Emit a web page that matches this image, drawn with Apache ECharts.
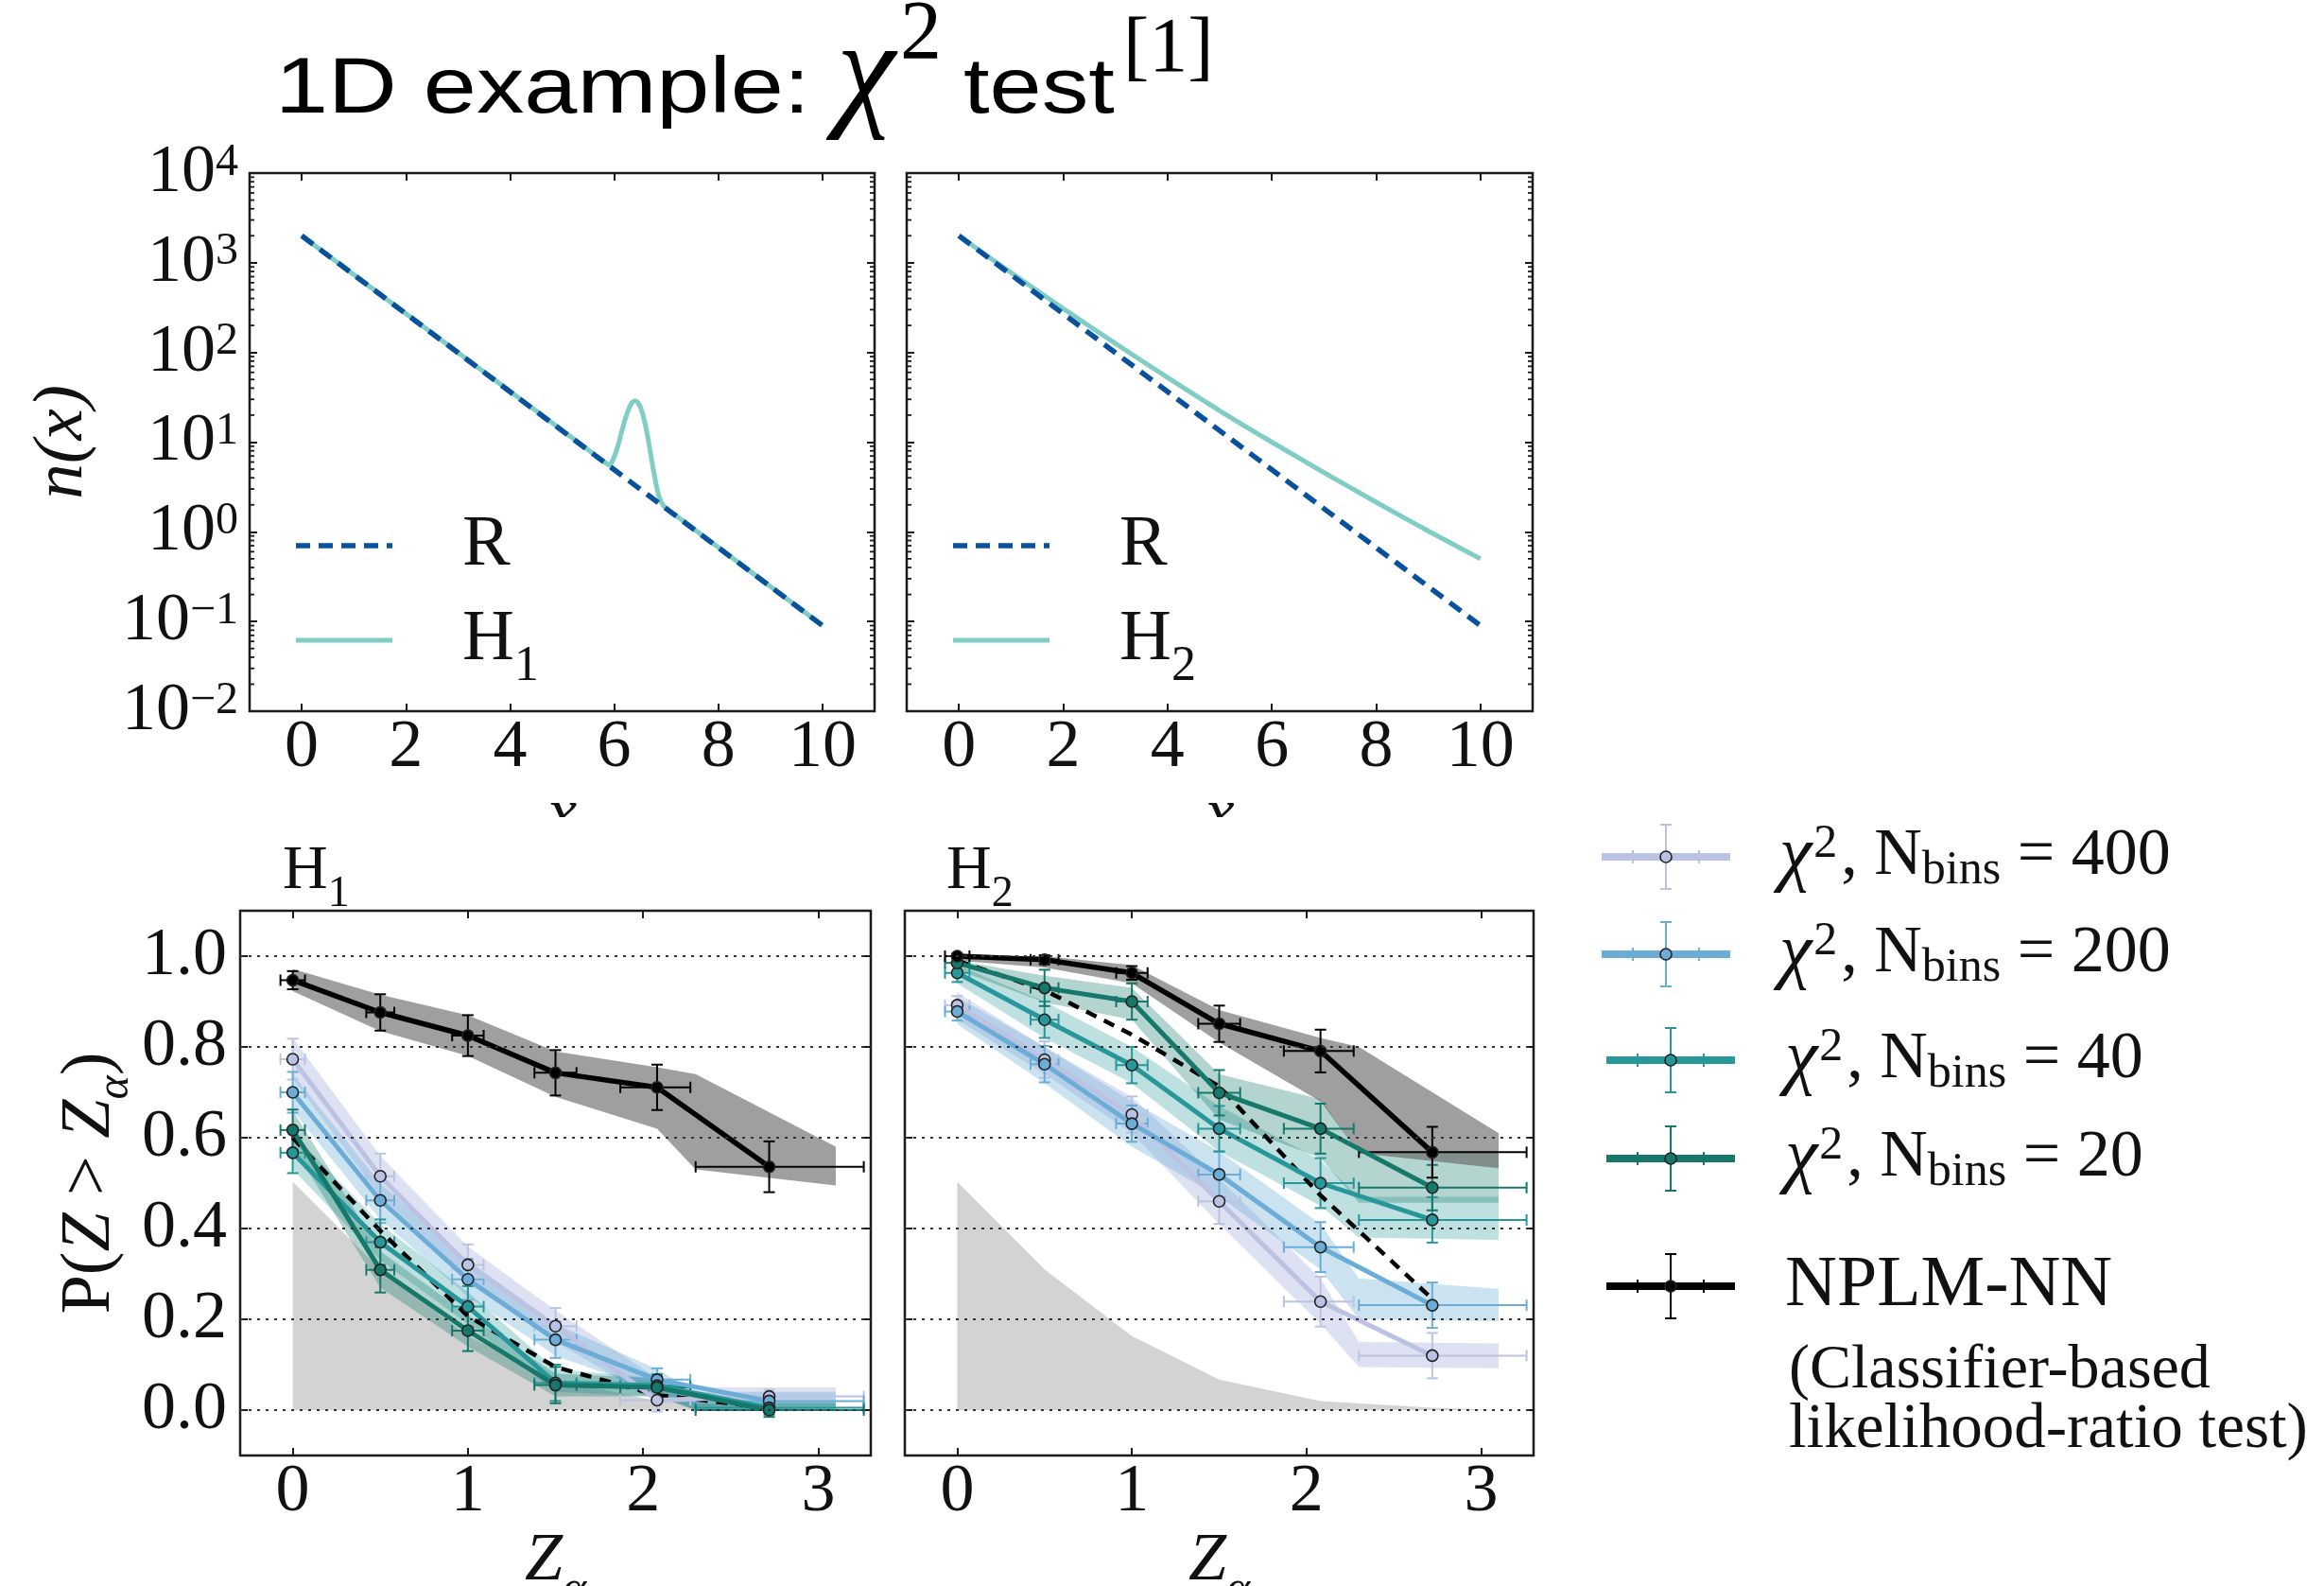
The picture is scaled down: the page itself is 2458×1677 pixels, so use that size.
<!DOCTYPE html>
<html><head><meta charset="utf-8">
<script src="https://cdn.jsdelivr.net/npm/echarts@6/dist/echarts.min.js"></script>
<style>html,body{margin:0;padding:0;background:#fff}#c{width:2458px;height:1677px}</style>
</head><body><div id="c"></div>
<script>
// ================= DATA =================
// top panels
const topXTicks = [0, 2, 4, 6, 8, 10];
const topYExps = [-2, -1, 0, 1, 2, 3, 4];
const minorMant = [2, 3, 4, 5, 6, 7, 8, 9];
const rX = [0, 10];
const rY = [2000, 0.09];
const h1X = [0, 5.9, 5.95, 6.0, 6.05, 6.1, 6.15, 6.2, 6.25, 6.3, 6.35, 6.4, 6.45, 6.5, 6.55, 6.6, 6.65, 6.7, 6.75, 6.8, 6.85, 6.9, 6.95, 7.0, 10];
const h1Y = [2000, 5.5, 5.9, 6.8, 8.2, 10.4, 13.4, 17.2, 21.2, 25.0, 28.0, 29.0, 28.0, 25.0, 20.5, 15.5, 11.0, 7.5, 5.0, 3.5, 2.6, 2.15, 1.95, 1.83, 0.09];
const h2X = [0, 1, 2, 3, 4, 5, 6, 7, 8, 9, 10];
const h2Y = [2000, 776, 309, 126, 52.5, 22.4, 10.0, 4.57, 2.14, 1.02, 0.50];

// bottom panels
const zTicks = [0, 1, 2, 3];
const pTicks = [0, 0.2, 0.4, 0.6, 0.8, 1.0];
const pLabels = ['0.0', '0.2', '0.4', '0.6', '0.8', '1.0'];
const zX = [0, 0.5, 1.0, 1.5, 2.08, 2.72];
const zXerrLo = [0.07, 0.08, 0.09, 0.12, 0.21, 0.42];
const zXerrHi = [0.07, 0.08, 0.09, 0.12, 0.19, 0.54];
const bandX = [0, 0.5, 1.0, 1.5, 2.08, 2.3, 3.1];
const nullX = [0, 0.5, 1.0, 1.5, 2.08, 2.72, 3.1];
const nullY = [0.503, 0.31, 0.163, 0.067, 0.02, 0.005, 0.0];

// H1
const h1Nplm = [0.947, 0.876, 0.825, 0.743, 0.711, 0.536];
const h1NplmErr = [0.02, 0.04, 0.045, 0.05, 0.05, 0.056];
const h1NplmUp = [0.972, 0.915, 0.87, 0.79, 0.755, 0.74, 0.58];
const h1NplmLo = [0.923, 0.835, 0.78, 0.69, 0.62, 0.53, 0.495];
const h1C400 = [0.773, 0.515, 0.32, 0.185, 0.022, 0.03];
const h1C200 = [0.70, 0.462, 0.288, 0.155, 0.067, 0.02];
const h1C40 = [0.567, 0.37, 0.228, 0.06, 0.054, 0.005];
const h1C20 = [0.617, 0.309, 0.175, 0.055, 0.05, 0.0];
const h1ChiErr = [0.045, 0.05, 0.045, 0.04, 0.025, 0.015];
const h1C400Up = [0.82, 0.56, 0.36, 0.22, 0.07, 0.05, 0.05];
const h1C400Lo = [0.73, 0.47, 0.28, 0.15, 0.02, 0.01, 0.01];
const h1C200Up = [0.74, 0.50, 0.33, 0.19, 0.09, 0.04, 0.04];
const h1C200Lo = [0.66, 0.42, 0.25, 0.12, 0.04, 0.0, 0.0];
const h1C40Up = [0.61, 0.41, 0.26, 0.09, 0.07, 0.02, 0.02];
const h1C40Lo = [0.53, 0.33, 0.19, 0.04, 0.03, 0.0, 0.0];
const h1C20Up = [0.66, 0.35, 0.21, 0.08, 0.07, 0.015, 0.015];
const h1C20Lo = [0.58, 0.27, 0.14, 0.03, 0.03, 0.0, 0.0];
const h1Dashed = [0.60, 0.395, 0.207, 0.095, 0.033, 0.005];

// H2
const h2Nplm = [1.0, 0.992, 0.963, 0.851, 0.791, 0.568];
const h2NplmErr = [0.005, 0.01, 0.015, 0.04, 0.047, 0.056];
const h2NplmUp = [1.0, 1.0, 0.98, 0.881, 0.82, 0.80, 0.61];
const h2NplmLo = [0.99, 0.975, 0.94, 0.81, 0.68, 0.566, 0.533];
const h2C400 = [0.892, 0.772, 0.651, 0.46, 0.239, 0.12];
const h2C200 = [0.878, 0.762, 0.631, 0.519, 0.359, 0.231];
const h2C40 = [0.963, 0.86, 0.76, 0.62, 0.50, 0.419];
const h2C20 = [0.985, 0.93, 0.90, 0.699, 0.62, 0.49];
const h2ChiErr = [0.02, 0.04, 0.04, 0.05, 0.055, 0.05];
const h2C400Up = [0.92, 0.80, 0.69, 0.51, 0.29, 0.15, 0.147];
const h2C400Lo = [0.86, 0.74, 0.61, 0.41, 0.19, 0.095, 0.092];
const h2C200Up = [0.91, 0.80, 0.68, 0.57, 0.41, 0.29, 0.267];
const h2C200Lo = [0.85, 0.72, 0.58, 0.47, 0.31, 0.20, 0.196];
const h2C40Up = [0.98, 0.90, 0.80, 0.67, 0.55, 0.47, 0.47];
const h2C40Lo = [0.94, 0.82, 0.72, 0.57, 0.45, 0.38, 0.375];
const h2C20Up = [0.99, 0.957, 0.93, 0.74, 0.685, 0.566, 0.566];
const h2C20Lo = [0.97, 0.898, 0.86, 0.64, 0.555, 0.457, 0.457];
const h2Dashed = [0.99, 0.925, 0.827, 0.713, 0.473, 0.245];

// legend
const legendNames = ['400', '200', '40', '20'];

// ================= STYLE =================
const SERIF = "'Liberation Serif','DejaVu Serif',serif";
const SANS = "'Liberation Sans','Helvetica',Arial,sans-serif";
const COL = {c400: '#bcc3e2', c200: '#6badd6', c40: '#27979a', c20: '#16786a', nplm: '#000000',
  R: '#08519c', H: '#7fcdc4'};
const BAND = {c400: 'rgba(180,188,224,0.45)', c200: 'rgba(107,174,214,0.35)', c40: 'rgba(39,151,154,0.30)',
  c20: 'rgba(22,120,106,0.32)', nplm: 'rgba(95,95,95,0.6)'};
const FRAME = '#1a1a1a';
const TICKFS = 72;

const chart = echarts.init(document.getElementById('c'), null, {renderer: 'canvas', width: 2458, height: 1677});

const grids = [
  {left: 264, top: 183, width: 661, height: 569},
  {left: 959, top: 183, width: 662, height: 569},
  {left: 254, top: 963, width: 667, height: 576},
  {left: 957, top: 963, width: 665, height: 576}
].map(g => Object.assign(g, {show: true, borderColor: FRAME, borderWidth: 2.5, backgroundColor: 'transparent',
  containLabel: false, outerBoundsMode: 'none'}));

const tickStyle = {show: true, inside: true, length: 8, lineStyle: {color: FRAME, width: 2}};
const noLine = {show: false, onZero: false};

function linX(gi, pos, min, max, ticks, showLabels, name, nameOpt) {
  const ax = {type: 'value', gridIndex: gi, position: pos, min: min, max: max,
    axisLine: noLine, splitLine: {show: false},
    axisTick: Object.assign({customValues: ticks}, tickStyle),
    axisLabel: {show: showLabels, customValues: ticks, margin: 3, fontFamily: SERIF, fontSize: TICKFS, color: '#111',
      formatter: v => String(v)}};
  if (name) Object.assign(ax, {name: name, nameLocation: 'middle'}, nameOpt);
  return ax;
}
function linY(gi, pos, showLabels, name, nameOpt) {
  const ax = {type: 'value', gridIndex: gi, position: pos, min: -0.1, max: 1.1,
    axisLine: noLine, splitLine: {show: false},
    axisTick: Object.assign({customValues: pTicks}, tickStyle),
    axisLabel: {show: showLabels, customValues: pTicks, margin: 14, fontFamily: SERIF, fontSize: TICKFS, color: '#111',
      formatter: v => pLabels[pTicks.findIndex(t => Math.abs(t - v) < 1e-6)]}};
  if (name) Object.assign(ax, {name: name, nameLocation: 'middle'}, nameOpt);
  return ax;
}
function logY(gi, pos, showLabels, name, nameOpt) {
  const ax = {type: 'log', logBase: 10, gridIndex: gi, position: pos, min: 0.01, max: 10000, splitNumber: 6,
    axisLine: noLine, splitLine: {show: false}, minorTick: {show: false},
    axisTick: tickStyle,
    axisLabel: {show: showLabels, margin: 12, showMinLabel: true, showMaxLabel: true,
      formatter: v => {
        const e = topYExps.find(k => Math.abs(Math.log10(v) - k) < 1e-6);
        return '{b|10}{s|' + (e < 0 ? '\u2212' + (-e) : e) + '}';
      },
      rich: {
        b: {fontFamily: SERIF, fontSize: TICKFS, lineHeight: 70, color: '#111', verticalAlign: 'middle'},
        s: {fontFamily: SERIF, fontSize: 48, lineHeight: 36, color: '#111', verticalAlign: 'top'}
      }}};
  if (name) Object.assign(ax, {name: name, nameLocation: 'middle'}, nameOpt);
  return ax;
}
const zName = {nameGap: 52, nameTextStyle: {rich: {
  z: {fontFamily: SERIF, fontStyle: 'italic', fontSize: 72, lineHeight: 72, color: '#111', verticalAlign: 'top'},
  a: {fontFamily: SERIF, fontStyle: 'italic', fontSize: 48, lineHeight: 48, padding: [42, 0, 0, 0], color: '#111', verticalAlign: 'top'}}}};
const xName = {nameGap: 62, nameTextStyle: {fontFamily: SERIF, fontStyle: 'italic', fontSize: 70, lineHeight: 70, color: '#111'}};

const xAxes = [
  linX(0, 'bottom', -1, 11, topXTicks, true, 'x', xName),
  linX(0, 'top', -1, 11, topXTicks, false),
  linX(1, 'bottom', -1, 11, topXTicks, true, 'x', xName),
  linX(1, 'top', -1, 11, topXTicks, false),
  linX(2, 'bottom', -0.3, 3.3, zTicks, true, '{z|Z}{a|\u03b1}', zName),
  linX(2, 'top', -0.3, 3.3, zTicks, false),
  linX(3, 'bottom', -0.3, 3.3, zTicks, true, '{z|Z}{a|\u03b1}', zName),
  linX(3, 'top', -0.3, 3.3, zTicks, false)
];
const yAxes = [
  logY(0, 'left', true, 'n(x)', {nameGap: 160, nameTextStyle: {fontFamily: SERIF, fontStyle: 'italic', fontSize: 75, color: '#111'}}),
  logY(0, 'right', false),
  logY(1, 'left', false),
  logY(1, 'right', false),
  linY(2, 'left', true, '{p|P(}{z|Z}{g| > }{z|Z}{a|\u03b1}{p|)}', {nameGap: 112,
    nameTextStyle: {rich: {
      p: {fontFamily: SERIF, fontSize: 74, lineHeight: 78, color: '#111', verticalAlign: 'middle'},
      g: {fontFamily: SERIF, fontSize: 74, lineHeight: 78, color: '#111', verticalAlign: 'middle'},
      z: {fontFamily: SERIF, fontStyle: 'italic', fontSize: 74, lineHeight: 78, color: '#111', verticalAlign: 'middle'},
      a: {fontFamily: SERIF, fontStyle: 'italic', fontSize: 48, lineHeight: 48, padding: [42, 0, 0, 0], color: '#111', verticalAlign: 'top'}}}}),
  linY(2, 'right', false),
  linY(3, 'left', false),
  linY(3, 'right', false)
];

// ================= SERIES HELPERS =================
function pairs(xs, ys) { return xs.map((x, i) => [x, ys[i]]); }

function minorTickSeries(xi, yi) {
  const vals = [];
  topYExps.slice(0, -1).forEach(e => minorMant.forEach(m => vals.push(m * Math.pow(10, e))));
  return {type: 'custom', xAxisIndex: xi, yAxisIndex: yi, silent: true, clip: false, z: 6,
    data: vals.map(v => [0, v]),
    renderItem: (p, api) => {
      const v = api.value(1);
      const L = api.coord([-1, v]), R = api.coord([11, v]);
      const st = {stroke: FRAME, lineWidth: 1.8};
      return {type: 'group', children: [
        {type: 'line', shape: {x1: L[0], y1: L[1], x2: L[0] + 5, y2: L[1]}, style: st},
        {type: 'line', shape: {x1: R[0], y1: R[1], x2: R[0] - 5, y2: R[1]}, style: st}]};
    }};
}

function polySeries(xi, yi, pts, fill) {
  return {type: 'custom', xAxisIndex: xi, yAxisIndex: yi, silent: true, clip: true, z: 2,
    data: pts,
    renderItem: (p, api) => {
      if (p.dataIndex !== 0) return null;
      return {type: 'polygon', shape: {points: pts.map(q => api.coord(q))}, style: {fill: fill}};
    }};
}
function bandSeries(xi, yi, up, lo, fill) {
  const pts = pairs(bandX, up).concat(pairs(bandX, lo).reverse());
  return polySeries(xi, yi, pts, fill);
}
function errSeries(xi, yi, ys, yerr, color) {
  const data = zX.map((x, i) => [x, ys[i], x - zXerrLo[i], x + zXerrHi[i], ys[i] - yerr[i], ys[i] + yerr[i]]);
  return {type: 'custom', xAxisIndex: xi, yAxisIndex: yi, silent: true, clip: false, z: 3,
    encode: {x: 0, y: 1},
    data: data,
    renderItem: (p, api) => {
      const x = api.value(0), y = api.value(1);
      const L = api.coord([api.value(2), y]), R = api.coord([api.value(3), y]);
      const T = api.coord([x, api.value(5)]), B = api.coord([x, api.value(4)]);
      const st = {stroke: color, lineWidth: 2};
      const c = 6;
      return {type: 'group', children: [
        {type: 'line', shape: {x1: L[0], y1: L[1], x2: R[0], y2: R[1]}, style: st},
        {type: 'line', shape: {x1: L[0], y1: L[1] - c, x2: L[0], y2: L[1] + c}, style: st},
        {type: 'line', shape: {x1: R[0], y1: R[1] - c, x2: R[0], y2: R[1] + c}, style: st},
        {type: 'line', shape: {x1: T[0], y1: T[1], x2: B[0], y2: B[1]}, style: st},
        {type: 'line', shape: {x1: T[0] - c, y1: T[1], x2: T[0] + c, y2: T[1]}, style: st},
        {type: 'line', shape: {x1: B[0] - c, y1: B[1], x2: B[0] + c, y2: B[1]}, style: st}]};
    }};
}
function pointLine(xi, yi, name, ys, color, filledDark) {
  return {type: 'line', name: name, xAxisIndex: xi, yAxisIndex: yi, z: 4,
    data: pairs(zX, ys), symbol: 'circle', symbolSize: 12, showSymbol: true,
    lineStyle: {color: color, width: filledDark ? 5.5 : 5},
    itemStyle: {color: filledDark ? '#000' : color, borderColor: '#222', borderWidth: 1.6}};
}
function bottomPanel(xi, yi, D) {
  const s = [];
  s.push(polySeries(xi, yi, pairs(nullX, nullY).concat([[0, 0]]), '#d3d3d3'));
  s.push(bandSeries(xi, yi, D.c400Up, D.c400Lo, BAND.c400));
  s.push(bandSeries(xi, yi, D.c200Up, D.c200Lo, BAND.c200));
  s.push(bandSeries(xi, yi, D.c40Up, D.c40Lo, BAND.c40));
  s.push(bandSeries(xi, yi, D.c20Up, D.c20Lo, BAND.c20));
  s.push(bandSeries(xi, yi, D.nUp, D.nLo, BAND.nplm));
  s.push({type: 'line', xAxisIndex: xi, yAxisIndex: yi, z: 3, data: pairs(zX, D.dashed), symbol: 'none',
    lineStyle: {color: '#000', width: 4.5, type: [12, 9]},
    markLine: {silent: true, symbol: ['none', 'none'], label: {show: false}, z: 5,
      lineStyle: {color: '#333', width: 2.2, type: [3, 6]},
      data: pTicks.map(v => ({yAxis: v}))}});
  [['c400', D.c400], ['c200', D.c200], ['c40', D.c40], ['c20', D.c20]].forEach(([k, ys]) => {
    s.push(errSeries(xi, yi, ys, D.chiErr, COL[k]));
    s.push(pointLine(xi, yi, k, ys, COL[k], false));
  });
  s.push(errSeries(xi, yi, D.nplm, D.nplmErr, '#000'));
  s.push(pointLine(xi, yi, 'nplm', D.nplm, '#000', true));
  return s;
}

const series = [];
// top-left
series.push({type: 'line', xAxisIndex: 0, yAxisIndex: 0, data: pairs(h1X, h1Y), symbol: 'none',
  lineStyle: {color: COL.H, width: 5}, z: 2});
series.push({type: 'line', xAxisIndex: 0, yAxisIndex: 0, data: pairs(rX, rY), symbol: 'none',
  lineStyle: {color: COL.R, width: 5.5, type: [15, 9]}, z: 3});
series.push(minorTickSeries(0, 0));
// top-right
series.push({type: 'line', xAxisIndex: 2, yAxisIndex: 2, data: pairs(h2X, h2Y), symbol: 'none', smooth: 0.3,
  lineStyle: {color: COL.H, width: 5}, z: 2});
series.push({type: 'line', xAxisIndex: 2, yAxisIndex: 2, data: pairs(rX, rY), symbol: 'none',
  lineStyle: {color: COL.R, width: 5.5, type: [15, 9]}, z: 3});
series.push(minorTickSeries(2, 2));
// bottom
series.push(...bottomPanel(4, 4, {nplm: h1Nplm, nplmErr: h1NplmErr, nUp: h1NplmUp, nLo: h1NplmLo,
  c400: h1C400, c200: h1C200, c40: h1C40, c20: h1C20, chiErr: h1ChiErr,
  c400Up: h1C400Up, c400Lo: h1C400Lo, c200Up: h1C200Up, c200Lo: h1C200Lo,
  c40Up: h1C40Up, c40Lo: h1C40Lo, c20Up: h1C20Up, c20Lo: h1C20Lo, dashed: h1Dashed}));
series.push(...bottomPanel(6, 6, {nplm: h2Nplm, nplmErr: h2NplmErr, nUp: h2NplmUp, nLo: h2NplmLo,
  c400: h2C400, c200: h2C200, c40: h2C40, c20: h2C20, chiErr: h2ChiErr,
  c400Up: h2C400Up, c400Lo: h2C400Lo, c200Up: h2C200Up, c200Lo: h2C200Lo,
  c40Up: h2C40Up, c40Lo: h2C40Lo, c20Up: h2C20Up, c20Lo: h2C20Lo, dashed: h2Dashed}));

// ================= GRAPHICS (title, legends) =================
const g = [];
// cover for clipped x-labels
g.push({type: 'rect', z: 100, shape: {x: 0, y: 864, width: 1660, height: 92}, style: {fill: '#fff'}});
// title pieces
function tText(txt, x, y, fs, fam, italic, sx) {
  g.push({type: 'text', z: 101, x: x, y: y, scaleX: sx || 1, style: {text: txt, fontFamily: fam, fontSize: fs,
    fontStyle: italic ? 'italic' : 'normal', fill: '#000', align: 'left', verticalAlign: 'middle'}});
}
tText('1D example:', 291, 96, 84, SANS, false, 1.2);
tText('\u03c7', 885, 81, 140, SERIF, true, 1);
tText('2', 952, 38, 88, SERIF, false, 1);
tText('test', 1019, 96, 84, SANS, false, 1.18);
tText('[1]', 1188, 53, 82, SERIF, false, 1);
// top legends
function topLegend(dx, sub) {
  g.push({type: 'line', z: 101, shape: {x1: 313 + dx, y1: 577, x2: 415 + dx, y2: 577},
    style: {stroke: COL.R, lineWidth: 5.5, lineDash: [15, 9]}});
  g.push({type: 'line', z: 101, shape: {x1: 313 + dx, y1: 677, x2: 415 + dx, y2: 677},
    style: {stroke: COL.H, lineWidth: 5}});
  g.push({type: 'text', z: 101, x: 489 + dx, y: 577, style: {text: 'R', fontFamily: SERIF, fontSize: 76, fill: '#111',
    align: 'left', verticalAlign: 'middle'}});
  g.push({type: 'text', z: 101, x: 489 + dx, y: 677, style: {text: '{h|H}{u|' + sub + '}', align: 'left', verticalAlign: 'middle',
    rich: {h: {fontFamily: SERIF, fontSize: 76, lineHeight: 76, fill: '#111', verticalAlign: 'top'},
           u: {fontFamily: SERIF, fontSize: 52, lineHeight: 52, padding: [40, 0, 0, 0], fill: '#111', verticalAlign: 'top'}}}});
}
topLegend(0, '1');
topLegend(695, '2');
// bottom panel titles
function panelTitle(x, sub) {
  g.push({type: 'text', z: 101, x: x, y: 922, style: {text: '{h|H}{u|' + sub + '}', align: 'left', verticalAlign: 'middle',
    rich: {h: {fontFamily: SERIF, fontSize: 66, lineHeight: 66, fill: '#111', verticalAlign: 'top'},
           u: {fontFamily: SERIF, fontSize: 46, lineHeight: 46, padding: [34, 0, 0, 0], fill: '#111', verticalAlign: 'top'}}}});
}
panelTitle(299, '1');
panelTitle(1001, '2');
// right legend
const legRows = [
  {y: 906, x0: 1694, col: COL.c400, lbl: legendNames[0], tx: 1882, fill: COL.c400},
  {y: 1009, x0: 1694, col: COL.c200, lbl: legendNames[1], tx: 1882, fill: COL.c200},
  {y: 1121, x0: 1699, col: COL.c40, lbl: legendNames[2], tx: 1888, fill: COL.c40},
  {y: 1225, x0: 1699, col: COL.c20, lbl: legendNames[3], tx: 1888, fill: COL.c20},
  {y: 1360, x0: 1699, col: '#000', lbl: null, tx: 1888, fill: '#000'}
];
legRows.forEach(r => {
  const xm = r.x0 + 68, y = r.y;
  const st = {stroke: r.col, lineWidth: 2};
  g.push({type: 'line', z: 101, shape: {x1: r.x0, y1: y, x2: r.x0 + 136, y2: y}, style: {stroke: r.col, lineWidth: 8}});
  g.push({type: 'line', z: 101, shape: {x1: xm - 35, y1: y - 7, x2: xm - 35, y2: y + 7}, style: st});
  g.push({type: 'line', z: 101, shape: {x1: xm + 35, y1: y - 7, x2: xm + 35, y2: y + 7}, style: st});
  g.push({type: 'line', z: 101, shape: {x1: xm, y1: y - 34, x2: xm, y2: y + 34}, style: st});
  g.push({type: 'line', z: 101, shape: {x1: xm - 6, y1: y - 34, x2: xm + 6, y2: y - 34}, style: st});
  g.push({type: 'line', z: 101, shape: {x1: xm - 6, y1: y + 34, x2: xm + 6, y2: y + 34}, style: st});
  g.push({type: 'circle', z: 102, shape: {cx: xm, cy: y, r: 6}, style: {fill: r.fill, stroke: '#222', lineWidth: 1.6}});
  if (r.lbl) {
    g.push({type: 'text', z: 101, x: r.tx, y: y, style: {
      text: '{c|\u03c7}{s|2}{t|, N}{b|bins}{t| = ' + r.lbl + '}', align: 'left', verticalAlign: 'middle',
      rich: {
        c: {fontFamily: SERIF, fontStyle: 'italic', fontSize: 78, lineHeight: 80, fill: '#111', verticalAlign: 'middle'},
        t: {fontFamily: SERIF, fontSize: 70, lineHeight: 80, fill: '#111', verticalAlign: 'middle'},
        s: {fontFamily: SERIF, fontSize: 50, lineHeight: 50, padding: [2, 4, 0, 2], fill: '#111', verticalAlign: 'top'},
        b: {fontFamily: SERIF, fontSize: 50, lineHeight: 50, fill: '#111', verticalAlign: 'bottom'}
      }}});
  } else {
    g.push({type: 'text', z: 101, x: r.tx, y: y, style: {text: 'NPLM-NN', fontFamily: SERIF, fontSize: 76, fill: '#111',
      align: 'left', verticalAlign: 'middle'}});
  }
});
g.push({type: 'text', z: 101, x: 1892, y: 1450, style: {text: '(Classifier-based', fontFamily: SERIF, fontSize: 66, fill: '#111',
  align: 'left', verticalAlign: 'middle'}});
g.push({type: 'text', z: 101, x: 1892, y: 1512, style: {text: 'likelihood-ratio test)', fontFamily: SERIF, fontSize: 67, fill: '#111',
  align: 'left', verticalAlign: 'middle'}});

chart.setOption({
  animation: false,
  backgroundColor: '#fff',
  grid: grids,
  xAxis: xAxes,
  yAxis: yAxes,
  series: series,
  graphic: {elements: g}
});
</script></body></html>
